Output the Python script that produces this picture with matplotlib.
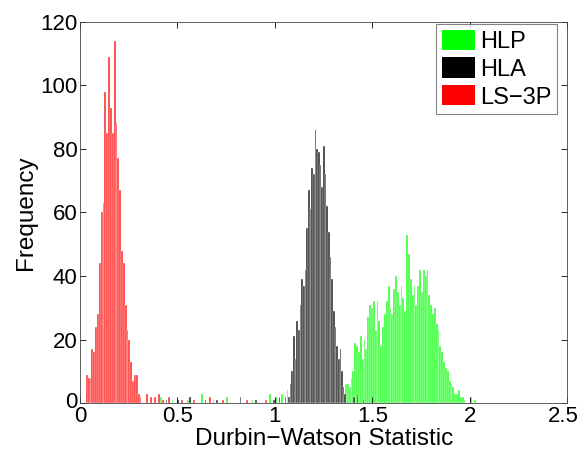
import numpy as np
import matplotlib
matplotlib.use('Agg')
import matplotlib.pyplot as plt
import matplotlib.transforms as mtransforms
from matplotlib.patches import Patch

# Histogram counts (each series has its own bin width)

# LS-3P (red)
red_start = 0.03
red_width = 0.0095
red_counts = [9, 8, 8, 17, 16, 24, 28, 44, 60, 63, 98, 85, 109, 93, 85,
              114, 88, 77, 67, 48, 44, 31, 23, 20, 13, 7, 9, 9, 3, 2]
red_tail_x = [0.34, 0.36, 0.38, 0.40, 0.42, 0.45, 0.52, 0.58, 0.66, 0.73, 0.85, 0.95]
red_tail_n = [3, 2, 2, 3, 1, 2, 1, 1, 2, 1, 1, 1]

# HLA (black)
black_start = 1.068
black_width = 0.0085
black_counts = [2, 6, 10, 21, 14, 26, 23, 31, 39, 37, 42, 55, 67, 61, 74, 72,
                86, 80, 79, 75, 68, 81, 72, 62, 54, 46, 39, 29, 24, 18, 14, 17, 10, 5, 3]
black_tail_x = [0.36, 0.44, 0.50, 0.56, 0.64, 0.70, 0.82, 0.90, 0.99, 1.02, 1.05, 1.40, 1.42, 1.45]
black_tail_n = [1, 1, 1, 2, 1, 1, 2, 1, 1, 2, 2, 2, 3, 1]

# HLP (green)
green_start = 1.36
green_width = 0.0095
green_counts = [6, 6, 5, 8, 10, 19, 18, 16, 21, 14, 20, 17, 27, 31, 30, 32, 23, 32,
                26, 18, 24, 28, 32, 37, 30, 28, 36, 40, 35, 31, 37, 33, 29, 53, 47,
                39, 34, 37, 31, 37, 42, 35, 42, 40, 42, 34, 31, 28, 30, 25, 23, 18,
                16, 13, 11, 10, 7, 6, 5, 3, 3, 4, 2, 2, 1]
green_tail_x = [0.41, 0.47, 0.55, 0.62, 0.68, 0.75, 0.88, 0.97, 1.00, 1.03, 1.06, 2.00, 2.02]
green_tail_n = [2, 1, 1, 3, 1, 2, 1, 3, 2, 3, 4, 2, 1]

series = [
    ('HLP', (0.2, 1.0, 0.2), green_start, green_width, green_counts, green_tail_x, green_tail_n, (0, 1, 0)),
    ('HLA', (0.2, 0.2, 0.2), black_start, black_width, black_counts, black_tail_x, black_tail_n, (0, 0, 0)),
    ('LS\u22123P', (1.0, 0.2, 0.2), red_start, red_width, red_counts, red_tail_x, red_tail_n, (1, 0, 0)),
]

plt.rcParams['font.family'] = ['Liberation Sans', 'DejaVu Sans']

fig = plt.figure(figsize=(5.8, 4.54), dpi=100)
ax = fig.add_axes([0.138, 0.112, 0.84, 0.84])

handles = []
for name, col, start, w, counts, tx, tn, legcol in series:
    x = start + w * np.arange(len(counts))
    ax.bar(x, counts, width=w, align='edge', color=col,
           edgecolor='white', linewidth=0.25)
    ax.bar(tx, tn, width=w, align='edge', color=col,
           edgecolor='white', linewidth=0.25)
    handles.append(Patch(facecolor=legcol, edgecolor='none', label=name))

ax.set_xlim(0, 2.5)
ax.set_ylim(0, 120)
ax.set_xticks([0, 0.5, 1, 1.5, 2, 2.5])
ax.set_xticklabels(['0', '0.5', '1', '1.5', '2', '2.5'])
ax.set_yticks(np.arange(0, 121, 20))
ax.tick_params(direction='in', top=True, right=True, labelsize=16,
               length=4, width=0.6, pad=2)
for s in ax.spines.values():
    s.set_linewidth(0.6)
    s.set_color('#444444')

# keep the last x tick label inside the figure edge
last = ax.get_xticklabels()[-1]
last.set_horizontalalignment('right')
last.set_transform(last.get_transform() +
                   mtransforms.ScaledTranslation(0.12, 0, fig.dpi_scale_trans))

# lift the y "0" a little so it does not sit on the x "0"
y0 = ax.get_yticklabels()[0]
y0.set_transform(y0.get_transform() +
                 mtransforms.ScaledTranslation(0, 0.03, fig.dpi_scale_trans))

ax.set_xlabel('Durbin\u2212Watson Statistic', fontsize=17.5, labelpad=1)
ax.set_ylabel('Frequency', fontsize=17.5, labelpad=2)

leg = ax.legend(handles=handles, loc='upper right', bbox_to_anchor=(0.9795, 0.995),
                fontsize=17, frameon=True, fancybox=False, edgecolor='#666666',
                handlelength=1.4, handleheight=0.93, handletextpad=0.2,
                borderpad=0.25, labelspacing=0.2, borderaxespad=0)
leg.get_frame().set_linewidth(0.8)

plt.savefig('out.png', dpi=100)
